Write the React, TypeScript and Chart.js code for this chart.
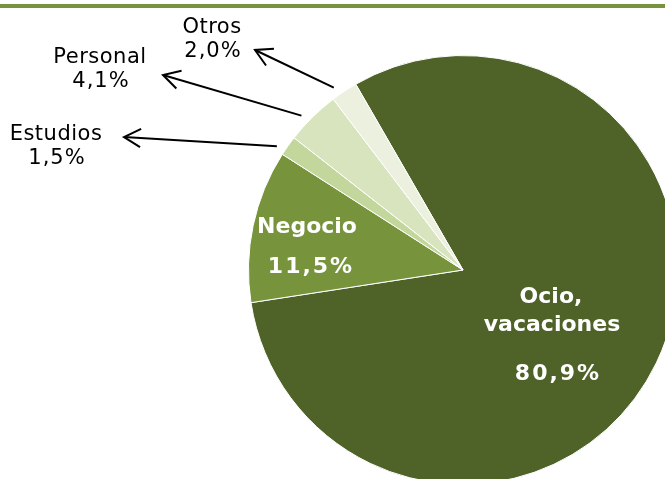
import React, { useEffect, useRef } from "react";
import { Chart, registerables } from "chart.js";

Chart.register(...registerables);

const categories = ["Ocio, vacaciones", "Negocio", "Estudios", "Personal", "Otros"];
const shares = [80.9, 11.5, 1.5, 4.1, 2.0];
const sliceColors = ["#4f6228", "#77933c", "#c3d69b", "#d7e4bd", "#ebf1de"];

const fmt = (v: number) => v.toFixed(1).replace(".", ",") + "%";

// outside label anchors (text center x, first baseline y, arrow tip x, y)
const outsideLabels: Record<number, { tx: number; ty: number; ax: number; ay: number; lines: string[] }> = {
  4: { tx: 212, ty: 33, ax: 255, ay: 50, lines: ["Otros"] },
  3: { tx: 100, ty: 63, ax: 163, ay: 75, lines: ["Personal"] },
  2: { tx: 56, ty: 140, ax: 124, ay: 137, lines: ["Estudios"] },
};

const labelPlugin = {
  id: "labels",
  afterDatasetsDraw(chart: any) {
    const ctx = chart.ctx;
    const meta = chart.getDatasetMeta(0);
    ctx.save();
    // top rule
    ctx.fillStyle = "#77933c";
    ctx.fillRect(0, 4, 665, 4);

    // inner labels
    ctx.fillStyle = "#ffffff";
    ctx.font = "bold 22px 'DejaVu Sans'";
    ctx.textAlign = "center";
    ctx.textBaseline = "alphabetic";
    ctx.fillText("Negocio", 307, 233);
    ctx.fillText("Ocio,", 551, 303);
    ctx.fillText("vacaciones", 552, 331);
    ctx.letterSpacing = "2px";
    ctx.fillText(fmt(shares[1]), 311, 273);
    ctx.fillText(fmt(shares[0]), 558, 380);
    ctx.letterSpacing = "0px";

    // outside labels + arrows
    ctx.font = "21px 'DejaVu Sans'";
    ctx.fillStyle = "#000000";
    ctx.strokeStyle = "#000000";
    ctx.lineWidth = 2;
    Object.keys(outsideLabels).forEach((k) => {
      const i = Number(k);
      const L = outsideLabels[i];
      ctx.letterSpacing = "0.5px";
      ctx.fillText(L.lines[0], L.tx, L.ty);
      ctx.letterSpacing = "1px";
      ctx.fillText(fmt(shares[i]), L.tx + 1, L.ty + 24);
      ctx.letterSpacing = "0px";
      const arc = meta.data[i];
      const mid = (arc.startAngle + arc.endAngle) / 2 - 0.03;
      const r = arc.outerRadius + 9;
      const sx = arc.x + Math.cos(mid) * r;
      const sy = arc.y + Math.sin(mid) * r;
      ctx.beginPath();
      ctx.moveTo(sx, sy);
      ctx.lineTo(L.ax, L.ay);
      ctx.stroke();
      const ang = Math.atan2(sy - L.ay, sx - L.ax);
      const hl = 19;
      const spread = (29 * Math.PI) / 180;
      ctx.beginPath();
      ctx.moveTo(L.ax + Math.cos(ang - spread) * hl, L.ay + Math.sin(ang - spread) * hl);
      ctx.lineTo(L.ax, L.ay);
      ctx.lineTo(L.ax + Math.cos(ang + spread) * hl, L.ay + Math.sin(ang + spread) * hl);
      ctx.stroke();
    });
    ctx.restore();
  },
};

export default function App() {
  const ref = useRef<HTMLCanvasElement>(null);
  useEffect(() => {
    document.body.style.margin = "0";
    const chart = new Chart(ref.current!, {
      type: "pie",
      data: {
        labels: categories,
        datasets: [
          {
            data: shares,
            backgroundColor: sliceColors,
            borderColor: "#ffffff",
            borderWidth: 1,
          },
        ],
      },
      options: {
        responsive: false,
        animation: false,
        devicePixelRatio: 1,
        rotation: -30,
        layout: { padding: { left: 248, top: 55, right: 42, bottom: 35 } },
        plugins: { legend: { display: false }, tooltip: { enabled: false } },
      },
      plugins: [labelPlugin],
    });
    return () => chart.destroy();
  }, []);
  return (
    <div style={{ position: "absolute", left: 0, top: 0, width: 665, height: 479, overflow: "hidden", background: "#fff" }}>
      <canvas ref={ref} width={720} height={520} style={{ display: "block" }} />
    </div>
  );
}
